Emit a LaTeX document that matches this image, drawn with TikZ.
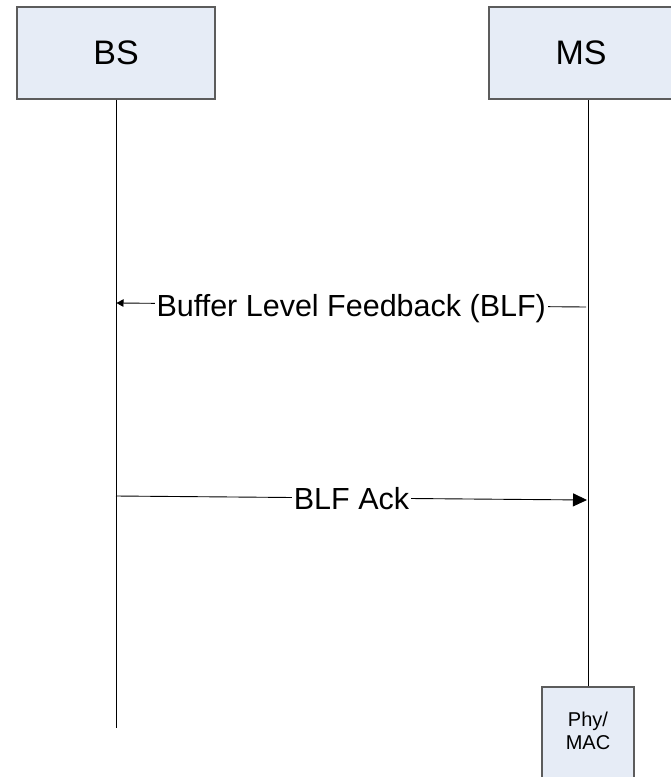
\documentclass[tikz,border=0pt]{standalone}
\usepackage{fontspec}
\setmainfont{Liberation Sans}
\usetikzlibrary{arrows.meta}
\definecolor{boxfill}{HTML}{E6ECF6}
\definecolor{boxline}{HTML}{5C5C5C}
\begin{document}
\begin{tikzpicture}[x=1pt,y=-1pt,
  actor/.style={rectangle, draw=boxline, line width=1.2pt, fill=boxfill, inner sep=0pt},
  bigtext/.style={font=\fontsize{34}{40}\selectfont},
  lifeline/.style={line width=0.9pt, black},
  msgline/.style={line width=0.9pt, black},
  msglabel/.style={fill=white, inner xsep=2pt, inner ysep=0pt, text height=22pt, text depth=0pt,
                   font=\fontsize{30.5}{36}\selectfont},
  smalltip/.style={-{Triangle[length=7pt,width=7.5pt]}},
  bigtip/.style={-{Triangle[length=14pt,width=13pt]}}
]
\fill[white] (0,0) rectangle (671,777);
\clip (0,0) rectangle (671,777);

% actor boxes
\node[actor, bigtext, minimum width=198pt, minimum height=92pt] (bs) at (116,53) {BS};
\node[actor, bigtext, minimum width=184pt, minimum height=92pt] (ms) at (581,53) {MS};
\node[actor, minimum width=92pt, minimum height=110pt] (phy) at (588,742) {};
\node[align=center, inner sep=0pt, font=\fontsize{20}{23}\selectfont] (phytext) at (588,731) {Phy/\\MAC};

% lifelines
\coordinate (bsend) at (116,728);
\draw[lifeline] (bs.south) -- (bsend);
\draw[lifeline] (phy.north) -- (phy.north |- ms.south);

% message end points on the lifelines
\coordinate (m1s) at (586,307);
\coordinate (m1e) at (116.5,303);
\coordinate (m2s) at (116,496);
\coordinate (m2e) at (587,500);

\draw[msgline, smalltip] (m1s) -- node[msglabel, midway] (l1) {Buffer Level Feedback (BLF)} (m1e);
\draw[msgline, bigtip] (m2s) -- node[msglabel, midway] (l2) {BLF Ack} (m2e);
\end{tikzpicture}
\end{document}
